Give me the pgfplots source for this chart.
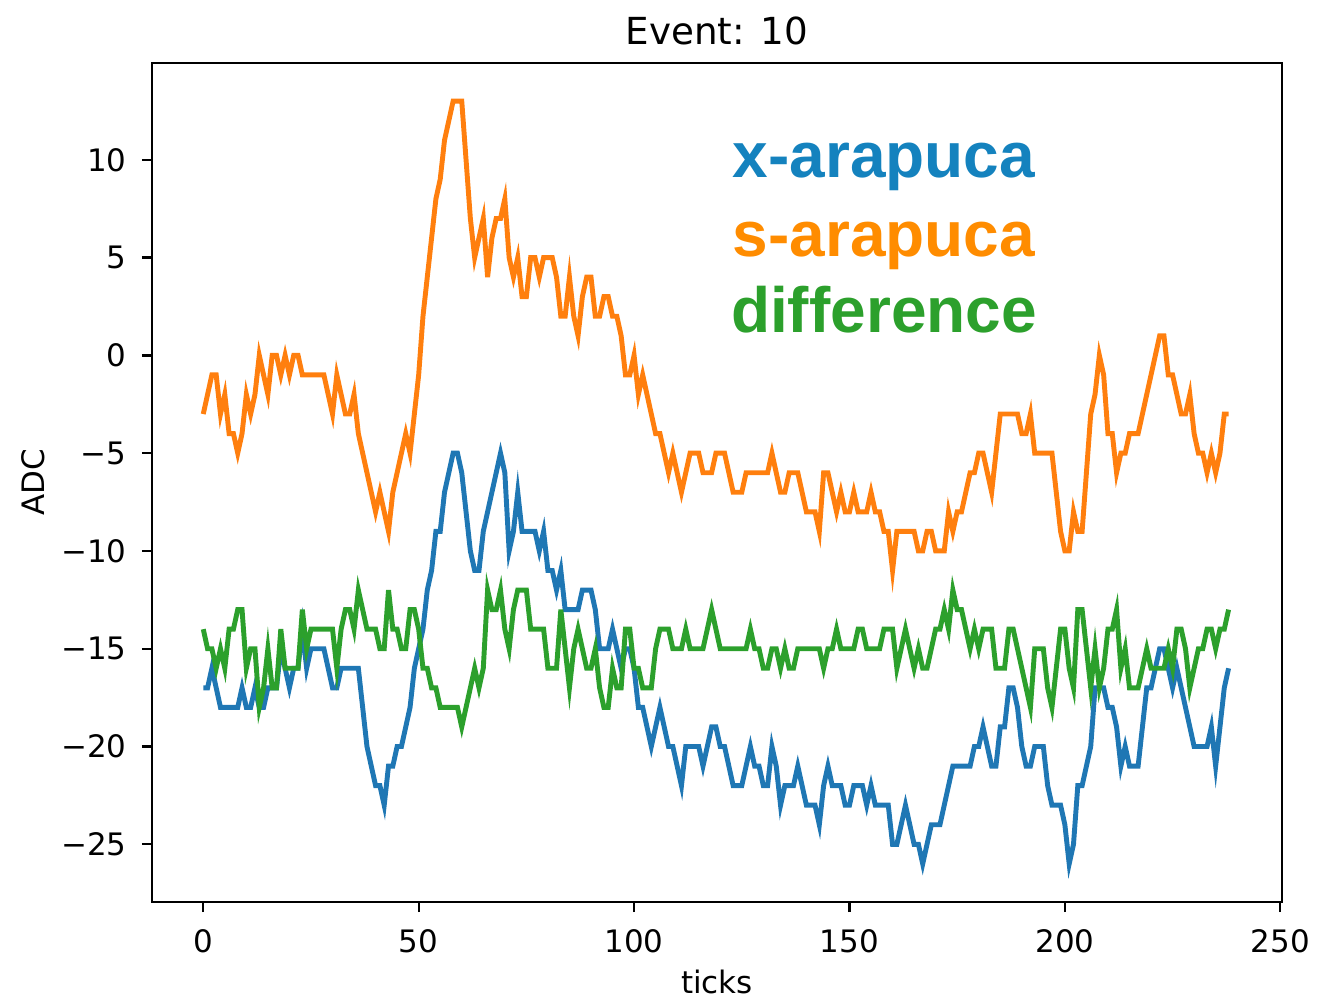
\documentclass[border=0pt]{standalone}
\usepackage{fontspec}
\setmainfont{DejaVu Sans}
\newfontfamily\annotfont{Liberation Sans}
\usepackage{pgfplots}
\usepackage{pgfplotstable}
\pgfplotsset{compat=1.18}

\definecolor{mplblue}{HTML}{1F77B4}
\definecolor{mplorange}{HTML}{FF7F0E}
\definecolor{mplgreen}{HTML}{2CA02C}
\definecolor{txtblue}{RGB}{20,130,190}
\definecolor{txtorange}{RGB}{255,140,0}
\definecolor{txtgreen}{RGB}{44,160,44}

% t, x-arapuca, s-arapuca, difference
\pgfplotstableread{
t x s d
0 -17 -3 -14
1 -17 -2 -15
2 -16 -1 -15
3 -17 -1 -16
4 -18 -3 -15
5 -18 -2 -16
6 -18 -4 -14
7 -18 -4 -14
8 -18 -5 -13
9 -17 -4 -13
10 -18 -2 -16
11 -18 -3 -15
12 -17 -2 -15
13 -18 0 -18
14 -18 -1 -17
15 -17 -2 -15
16 -17 0 -17
17 -17 0 -17
18 -15 -1 -14
19 -16 0 -16
20 -17 -1 -16
21 -16 0 -16
22 -16 0 -16
23 -14 -1 -13
24 -16 -1 -15
25 -15 -1 -14
26 -15 -1 -14
27 -15 -1 -14
28 -15 -1 -14
29 -16 -2 -14
30 -17 -3 -14
31 -17 -1 -16
32 -16 -2 -14
33 -16 -3 -13
34 -16 -3 -13
35 -16 -2 -14
36 -16 -4 -12
37 -18 -5 -13
38 -20 -6 -14
39 -21 -7 -14
40 -22 -8 -14
41 -22 -7 -15
42 -23 -8 -15
43 -21 -9 -12
44 -21 -7 -14
45 -20 -6 -14
46 -20 -5 -15
47 -19 -4 -15
48 -18 -5 -13
49 -16 -3 -13
50 -15 -1 -14
51 -14 2 -16
52 -12 4 -16
53 -11 6 -17
54 -9 8 -17
55 -9 9 -18
56 -7 11 -18
57 -6 12 -18
58 -5 13 -18
59 -5 13 -18
60 -6 13 -19
61 -8 10 -18
62 -10 7 -17
63 -11 5 -16
64 -11 6 -17
65 -9 7 -16
66 -8 4 -12
67 -7 6 -13
68 -6 7 -13
69 -5 7 -12
70 -6 8 -14
71 -10 5 -15
72 -9 4 -13
73 -7 5 -12
74 -9 3 -12
75 -9 3 -12
76 -9 5 -14
77 -9 5 -14
78 -10 4 -14
79 -9 5 -14
80 -11 5 -16
81 -11 5 -16
82 -12 4 -16
83 -11 2 -13
84 -13 2 -15
85 -13 4 -17
86 -13 2 -15
87 -13 1 -14
88 -12 3 -15
89 -12 4 -16
90 -12 4 -16
91 -13 2 -15
92 -15 2 -17
93 -15 3 -18
94 -15 3 -18
95 -14 2 -16
96 -15 2 -17
97 -16 1 -17
98 -15 -1 -14
99 -15 -1 -14
100 -16 0 -16
101 -18 -2 -16
102 -18 -1 -17
103 -19 -2 -17
104 -20 -3 -17
105 -19 -4 -15
106 -18 -4 -14
107 -19 -5 -14
108 -20 -6 -14
109 -20 -5 -15
110 -21 -6 -15
111 -22 -7 -15
112 -20 -6 -14
113 -20 -5 -15
114 -20 -5 -15
115 -20 -5 -15
116 -21 -6 -15
117 -20 -6 -14
118 -19 -6 -13
119 -19 -5 -14
120 -20 -5 -15
121 -20 -5 -15
122 -21 -6 -15
123 -22 -7 -15
124 -22 -7 -15
125 -22 -7 -15
126 -21 -6 -15
127 -20 -6 -14
128 -21 -6 -15
129 -21 -6 -15
130 -22 -6 -16
131 -22 -6 -16
132 -20 -5 -15
133 -21 -6 -15
134 -23 -7 -16
135 -22 -7 -15
136 -22 -6 -16
137 -22 -6 -16
138 -21 -6 -15
139 -22 -7 -15
140 -23 -8 -15
141 -23 -8 -15
142 -23 -8 -15
143 -24 -9 -15
144 -22 -6 -16
145 -21 -6 -15
146 -22 -7 -15
147 -22 -8 -14
148 -22 -7 -15
149 -23 -8 -15
150 -23 -8 -15
151 -22 -7 -15
152 -22 -8 -14
153 -22 -8 -14
154 -23 -8 -15
155 -22 -7 -15
156 -23 -8 -15
157 -23 -8 -15
158 -23 -9 -14
159 -23 -9 -14
160 -25 -11 -14
161 -25 -9 -16
162 -24 -9 -15
163 -23 -9 -14
164 -24 -9 -15
165 -25 -9 -16
166 -25 -10 -15
167 -26 -10 -16
168 -25 -9 -16
169 -24 -9 -15
170 -24 -10 -14
171 -24 -10 -14
172 -23 -10 -13
173 -22 -8 -14
174 -21 -9 -12
175 -21 -8 -13
176 -21 -8 -13
177 -21 -7 -14
178 -21 -6 -15
179 -20 -6 -14
180 -20 -5 -15
181 -19 -5 -14
182 -20 -6 -14
183 -21 -7 -14
184 -21 -5 -16
185 -19 -3 -16
186 -19 -3 -16
187 -17 -3 -14
188 -17 -3 -14
189 -18 -3 -15
190 -20 -4 -16
191 -21 -4 -17
192 -21 -3 -18
193 -20 -5 -15
194 -20 -5 -15
195 -20 -5 -15
196 -22 -5 -17
197 -23 -5 -18
198 -23 -7 -16
199 -23 -9 -14
200 -24 -10 -14
201 -26 -10 -16
202 -25 -8 -17
203 -22 -9 -13
204 -22 -9 -13
205 -21 -6 -15
206 -20 -3 -17
207 -17 -2 -15
208 -17 0 -17
209 -17 -1 -16
210 -18 -4 -14
211 -18 -4 -14
212 -19 -6 -13
213 -21 -5 -16
214 -20 -5 -15
215 -21 -4 -17
216 -21 -4 -17
217 -21 -4 -17
218 -19 -3 -16
219 -17 -2 -15
220 -17 -1 -16
221 -16 0 -16
222 -15 1 -16
223 -15 1 -16
224 -16 -1 -15
225 -17 -1 -16
226 -16 -2 -14
227 -17 -3 -14
228 -18 -3 -15
229 -19 -2 -17
230 -20 -4 -16
231 -20 -5 -15
232 -20 -5 -15
233 -20 -6 -14
234 -19 -5 -14
235 -21 -6 -15
236 -19 -5 -14
237 -17 -3 -14
238 -16 -3 -13
}\adc

\begin{document}
\begin{tikzpicture}
\begin{axis}[
  scale only axis,
  width=11.30cm, height=8.39cm,
  xmin=-11.9, xmax=250.4,
  ymin=-27.95, ymax=14.95,
  xtick={0,50,100,150,200,250},
  ytick={-25,-20,-15,-10,-5,0,5,10},
  yticklabels={−25,−20,−15,−10,−5,0,5,10},
  xticklabels={0,50,100,150,200,250},
  tick align=outside, tick pos=left,
  major tick length=0.1cm,
  axis line style={line width=0.65pt},
  every tick/.style={line width=0.65pt, black},
  ticklabel style={font=\fontsize{8.8}{10}\selectfont},
  xticklabel style={yshift=-0.05cm},
  yticklabel style={xshift=-0.03cm},
  xlabel={ticks}, ylabel={ADC},
  every axis x label/.style={at={(rel axis cs:0.5,0)}, anchor=base, yshift=-0.91cm, font=\fontsize{8.8}{10}\selectfont},
  every axis y label/.style={at={(rel axis cs:0,0.5)}, rotate=90, anchor=center, yshift=1.19cm, font=\fontsize{8.8}{10}\selectfont},
  title={Event: 10},
  every axis title/.style={at={(rel axis cs:0.5,1)}, anchor=base, yshift=0.18cm, font=\fontsize{10.6}{12}\selectfont},
  clip=true,
]
\addplot[mplblue, line width=1.4pt] table[x=t, y=x] {\adc};
\addplot[mplorange, line width=1.4pt] table[x=t, y=s] {\adc};
\addplot[mplgreen, line width=1.4pt] table[x=t, y=d] {\adc};
\node[anchor=base, text=txtblue, font=\annotfont\bfseries\fontsize{18.2}{20}\selectfont] at (axis cs:158,9.08) {x-arapuca};
\node[anchor=base, text=txtorange, font=\annotfont\bfseries\fontsize{18.2}{20}\selectfont] at (axis cs:158,5.05) {s-arapuca};
\node[anchor=base, text=txtgreen, font=\annotfont\bfseries\fontsize{18.2}{20}\selectfont] at (axis cs:158,1.17) {difference};
\coordinate (SW) at (rel axis cs:0,0);
\coordinate (NE) at (rel axis cs:1,1);
\end{axis}
\pgfresetboundingbox
\path[use as bounding box] ([xshift=-1.52cm,yshift=-0.97cm]SW) rectangle ([xshift=0.49cm,yshift=0.63cm]NE);
\end{tikzpicture}
\end{document}
